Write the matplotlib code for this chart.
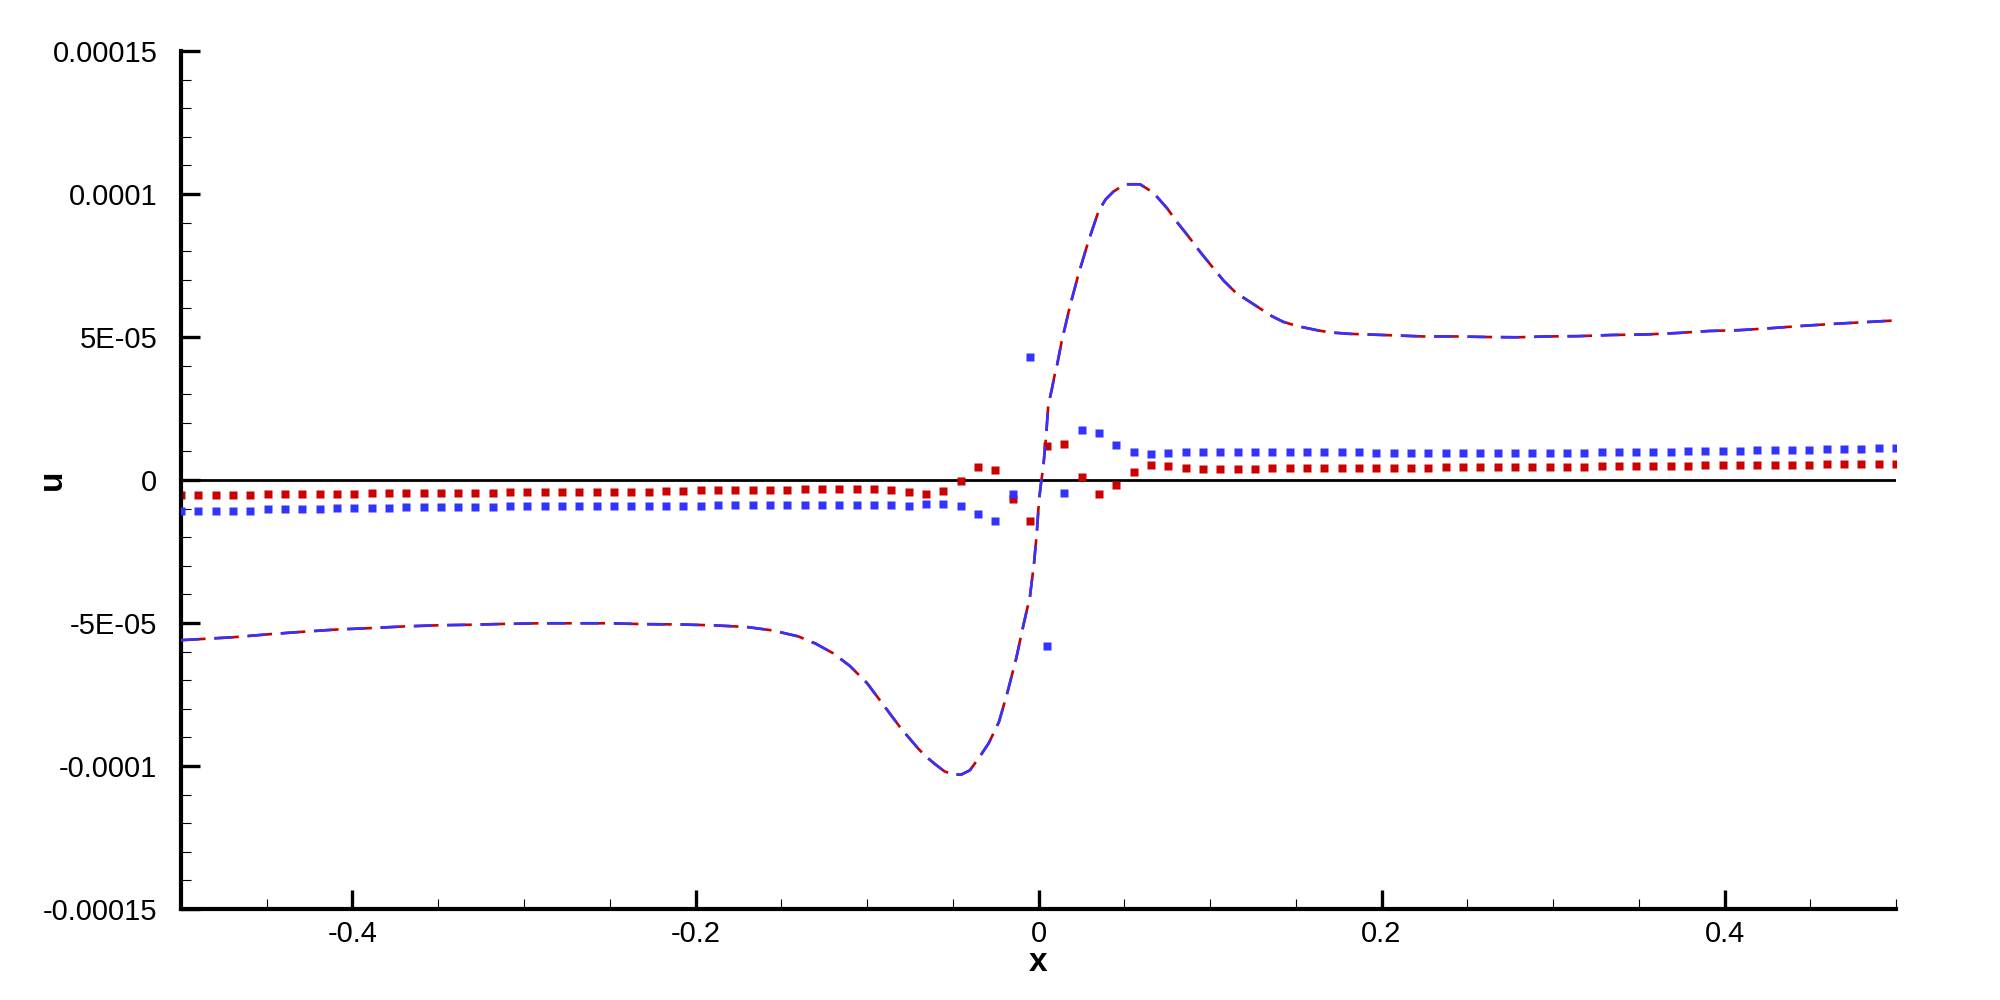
import numpy as np
import matplotlib
matplotlib.use("Agg")
import matplotlib.pyplot as plt
from matplotlib.ticker import MultipleLocator

plt.rcParams['font.family'] = ['Liberation Sans', 'DejaVu Sans']
plt.rcParams['lines.scale_dashes'] = False

# dashed curve (both colours drawn on the same data)
curve_x = [-0.5, -0.47, -0.45, -0.43, -0.41, -0.39, -0.37, -0.35, -0.33, -0.31,
           -0.29, -0.27, -0.25, -0.23, -0.21, -0.19, -0.17, -0.155, -0.14, -0.13,
           -0.12, -0.11, -0.10, -0.09, -0.08, -0.07, -0.065, -0.06, -0.055, -0.05,
           -0.045, -0.04, -0.034, -0.029, -0.023, -0.018, -0.013, -0.009, -0.005,
           -0.0026, -0.001, 0.0003, 0.0015, 0.0028, 0.0044, 0.0057, 0.0077, 0.0096,
           0.0106, 0.0135, 0.0184, 0.0232, 0.029, 0.0349, 0.039, 0.0436, 0.048,
           0.0514, 0.0592, 0.0669, 0.075, 0.0806, 0.087, 0.0942, 0.100, 0.1078,
           0.115, 0.1253, 0.136, 0.1427, 0.151, 0.1622, 0.170, 0.1816,
           0.201, 0.224, 0.2426, 0.261, 0.279, 0.297, 0.315, 0.334, 0.3545, 0.3727,
           0.391, 0.409, 0.4274, 0.4456, 0.4639, 0.482, 0.5]
curve_u = [-5.60, -5.50, -5.40, -5.31, -5.23, -5.18, -5.12, -5.08, -5.06, -5.03,
           -5.01, -5.01, -5.01, -5.04, -5.05, -5.08, -5.14, -5.26, -5.47, -5.72,
           -6.05, -6.50, -7.10, -7.90, -8.70, -9.40, -9.70, -9.95, -10.18, -10.30,
           -10.30, -10.15, -9.65, -9.20, -8.45, -7.40, -6.24, -5.13, -4.08,
           -2.91, -1.86, -0.70, -0.10, 0.47, 1.51, 2.62, 3.15, 3.73,
           3.95, 4.84, 6.09, 7.17, 8.33, 9.38, 9.80, 10.08, 10.25,
           10.34, 10.34, 10.05, 9.50, 9.03, 8.55, 7.98, 7.55, 6.98,
           6.55, 6.15, 5.73, 5.53, 5.38, 5.24, 5.16, 5.11,
           5.07, 5.02, 5.02, 5.00, 4.99, 5.02, 5.03, 5.07, 5.09, 5.14,
           5.21, 5.24, 5.31, 5.39, 5.46, 5.52, 5.58]

# square markers on a uniform 100-point grid
marker_x = np.linspace(-0.5, 0.5, 100)
red_u = ([-0.52] * 5 + [-0.49] * 6 + [-0.45] * 8 + [-0.42] * 9 + [-0.38] * 2 +
         [-0.36, -0.36, -0.35, -0.35, -0.34, -0.34, -0.33, -0.33, -0.32, -0.32, -0.33, -0.36] +
         [-0.41, -0.48, -0.37, -0.02, 0.47, 0.36, -0.65, -1.42, 1.20, 1.27, 0.12, -0.48,
          -0.16, 0.29, 0.53, 0.50, 0.43] +
         [0.39] * 4 + [0.43] * 10 + [0.46] * 9 + [0.50] * 6 + [0.53] * 7 + [0.57] * 5)
blue_u = ([-1.10] * 2 + [-1.07] * 3 + [-1.03] * 4 + [-0.99] * 4 + [-0.96] * 6 + [-0.92] * 10 +
          [-0.90, -0.90, -0.89, -0.89, -0.88, -0.88, -0.87, -0.87, -0.86, -0.86, -0.86, -0.86, -0.88] +
          [-0.90, -0.83, -0.83, -0.90, -1.18, -1.42, -0.50, 4.31, -5.79, -0.44, 1.76, 1.65,
           1.23, 0.99, 0.92, 0.95, 0.99] +
          [0.99] * 10 + [0.95] * 13 + [0.99] * 5 + [1.02] * 4 + [1.06] * 4 + [1.09] * 3 + [1.13] * 2)

yticks = [-0.00015, -0.0001, -5e-05, 0, 5e-05, 0.0001, 0.00015]
ytick_labels = ['-0.00015', '-0.0001', '-5E-05', '0', '5E-05', '0.0001', '0.00015']
xticks = [-0.4, -0.2, 0, 0.2, 0.4]
xtick_labels = ['-0.4', '-0.2', '0', '0.2', '0.4']

red = '#cc0000'
blue = '#3333ff'

fig = plt.figure(figsize=(20, 10), dpi=100)
ax = fig.add_axes([0.0905, 0.091, 0.8575, 0.858])

scale = 1e-5
ax.axhline(0, color='black', lw=2.0, zorder=1)
ax.plot(marker_x, np.array(red_u) * scale, ls='none', marker='s', ms=5.8,
        mfc=red, mec='none', zorder=2)
ax.plot(marker_x, np.array(blue_u) * scale, ls='none', marker='s', ms=5.8,
        mfc=blue, mec='none', zorder=3)
cu = np.array(curve_u) * scale
ax.plot(curve_x, cu, color=red, lw=1.9, ls=(0, (17.7, 6.3)), zorder=4)
ax.plot(curve_x, cu, color=blue, lw=1.9, ls=(0, (13.0, 11.0)), zorder=5)

ax.set_xlim(-0.5, 0.5)
ax.set_ylim(-0.00015, 0.00015)

for side in ['top', 'right']:
    ax.spines[side].set_visible(False)
for side in ['left', 'bottom']:
    ax.spines[side].set_linewidth(3.0)

ax.set_xticks(xticks, xtick_labels)
ax.set_yticks(yticks, ytick_labels)
ax.xaxis.set_minor_locator(MultipleLocator(0.05))
ax.yaxis.set_minor_locator(MultipleLocator(1e-05))
ax.tick_params(which='major', direction='in', length=14, width=2.4, labelsize=21)
ax.tick_params(which='minor', direction='in', length=7.5, width=0.8)
ax.tick_params(axis='y', which='major', pad=17)
ax.tick_params(axis='x', which='major', pad=8)

ax.set_xlabel('x', fontsize=24, fontweight='bold', va='center')
ax.set_ylabel('u', fontsize=24, fontweight='bold', va='center', ha='center')
ax.xaxis.set_label_coords(0.5, -0.062)
ax.yaxis.set_label_coords(-0.075, 0.5)

fig.savefig('out.png', dpi=100, facecolor='white')
